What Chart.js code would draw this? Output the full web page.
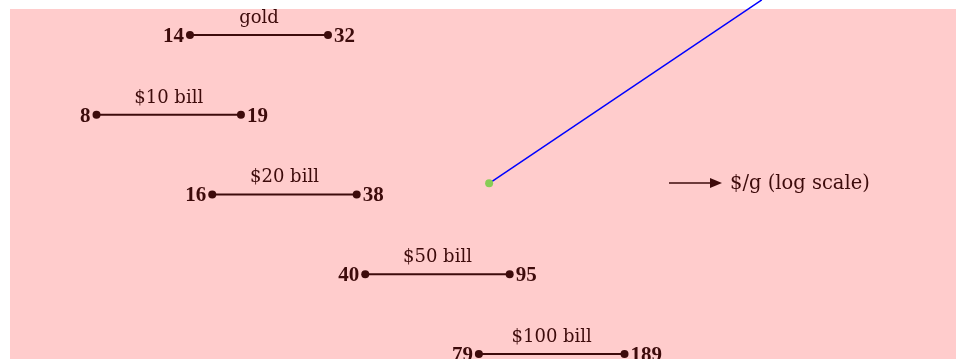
<!DOCTYPE html>
<html>
<head>
<meta charset="utf-8">
<script src="https://cdn.jsdelivr.net/npm/chart.js@4.4.1/dist/chart.umd.min.js"></script>
<style>
  html, body { margin: 0; padding: 0; background: #fff; }
  #wrap { position: relative; width: 956px; height: 359px; }
</style>
</head>
<body>
<div id="wrap"><canvas id="chart"></canvas></div>
<script>
// Dumbbell chart: price range per item, in $/g on a log scale
const categories = ['gold', '$10 bill', '$20 bill', '$50 bill', '$100 bill'];
const lowValues = [14, 8, 16, 40, 79];
const highValues = [32, 19, 38, 95, 189];
const axisLabel = '$/g (log scale)';

// stray marker + line seen in the picture
const markerX = [84, 430];
const markerY = [1.86, -0.44];

const INK = '#3d0b0b';
const PINK = '#ffcccc';

// One line dataset per row, from low to high
const rowDatasets = categories.map((name, i) => ({
  label: name,
  data: [{ x: lowValues[i], y: i }, { x: highValues[i], y: i }],
  borderColor: INK,
  borderWidth: 2,
  pointRadius: 4,
  pointBackgroundColor: INK,
  pointBorderWidth: 0,
  showLine: true
}));

const markerDataset = {
  label: 'marker',
  data: markerX.map((x, i) => ({ x, y: markerY[i] })),
  borderColor: '#0000ff',
  borderWidth: 1.5,
  pointRadius: [4, 0],
  pointBackgroundColor: '#88cc55',
  pointBorderWidth: 0,
  showLine: true,
  clip: false,
  order: 10
};

// Pink panel behind the plot area
const panelPlugin = {
  id: 'panel',
  beforeDraw(chart) {
    const { ctx, chartArea: a } = chart;
    ctx.save();
    ctx.fillStyle = PINK;
    ctx.fillRect(a.left, a.top, a.right - a.left, a.bottom - a.top);
    ctx.restore();
  }
};

// Row labels, end values and the axis arrow
const labelPlugin = {
  id: 'labels',
  afterDatasetsDraw(chart) {
    const { ctx, scales: { x, y }, chartArea: a } = chart;
    ctx.save();
    ctx.fillStyle = INK;
    ctx.textBaseline = 'alphabetic';

    categories.forEach((name, i) => {
      const x0 = x.getPixelForValue(lowValues[i]);
      const x1 = x.getPixelForValue(highValues[i]);
      const py = y.getPixelForValue(i);

      ctx.font = 'bold 21px "Liberation Serif"';
      ctx.textAlign = 'right';
      ctx.fillText(String(lowValues[i]), x0 - 6, py + 7);
      ctx.textAlign = 'left';
      ctx.fillText(String(highValues[i]), x1 + 6, py + 7);

      ctx.font = '18px "DejaVu Serif"';
      ctx.textAlign = 'center';
      ctx.fillText(name, (x0 + x1) / 2, py - 12);
    });

    // arrow + axis caption
    const ay = a.top + 174;
    const ax0 = a.left + 659, ax1 = a.left + 712;
    ctx.strokeStyle = INK;
    ctx.lineWidth = 1.5;
    ctx.beginPath();
    ctx.moveTo(ax0, ay);
    ctx.lineTo(ax1 - 8, ay);
    ctx.stroke();
    ctx.beginPath();
    ctx.moveTo(ax1, ay);
    ctx.lineTo(ax1 - 12, ay - 5);
    ctx.lineTo(ax1 - 12, ay + 5);
    ctx.closePath();
    ctx.fill();

    ctx.font = '19.5px "DejaVu Serif"';
    ctx.textAlign = 'left';
    ctx.fillText(axisLabel, ax1 + 8, ay + 6);
    ctx.restore();
  }
};

new Chart(document.getElementById('chart'), {
  type: 'scatter',
  data: { datasets: [...rowDatasets, markerDataset] },
  options: {
    responsive: true,
    maintainAspectRatio: false,
    animation: false,
    layout: { autoPadding: false, padding: { left: 10, top: 9, right: 0, bottom: 0 } },
    plugins: {
      legend: { display: false },
      tooltip: { enabled: false }
    },
    scales: {
      x: {
        type: 'logarithmic',
        min: 4.765,
        max: 1376,
        display: false
      },
      y: {
        type: 'linear',
        reverse: true,
        min: -0.326,
        max: 4.063,
        display: false
      }
    }
  },
  plugins: [panelPlugin, labelPlugin]
});
</script>
</body>
</html>
